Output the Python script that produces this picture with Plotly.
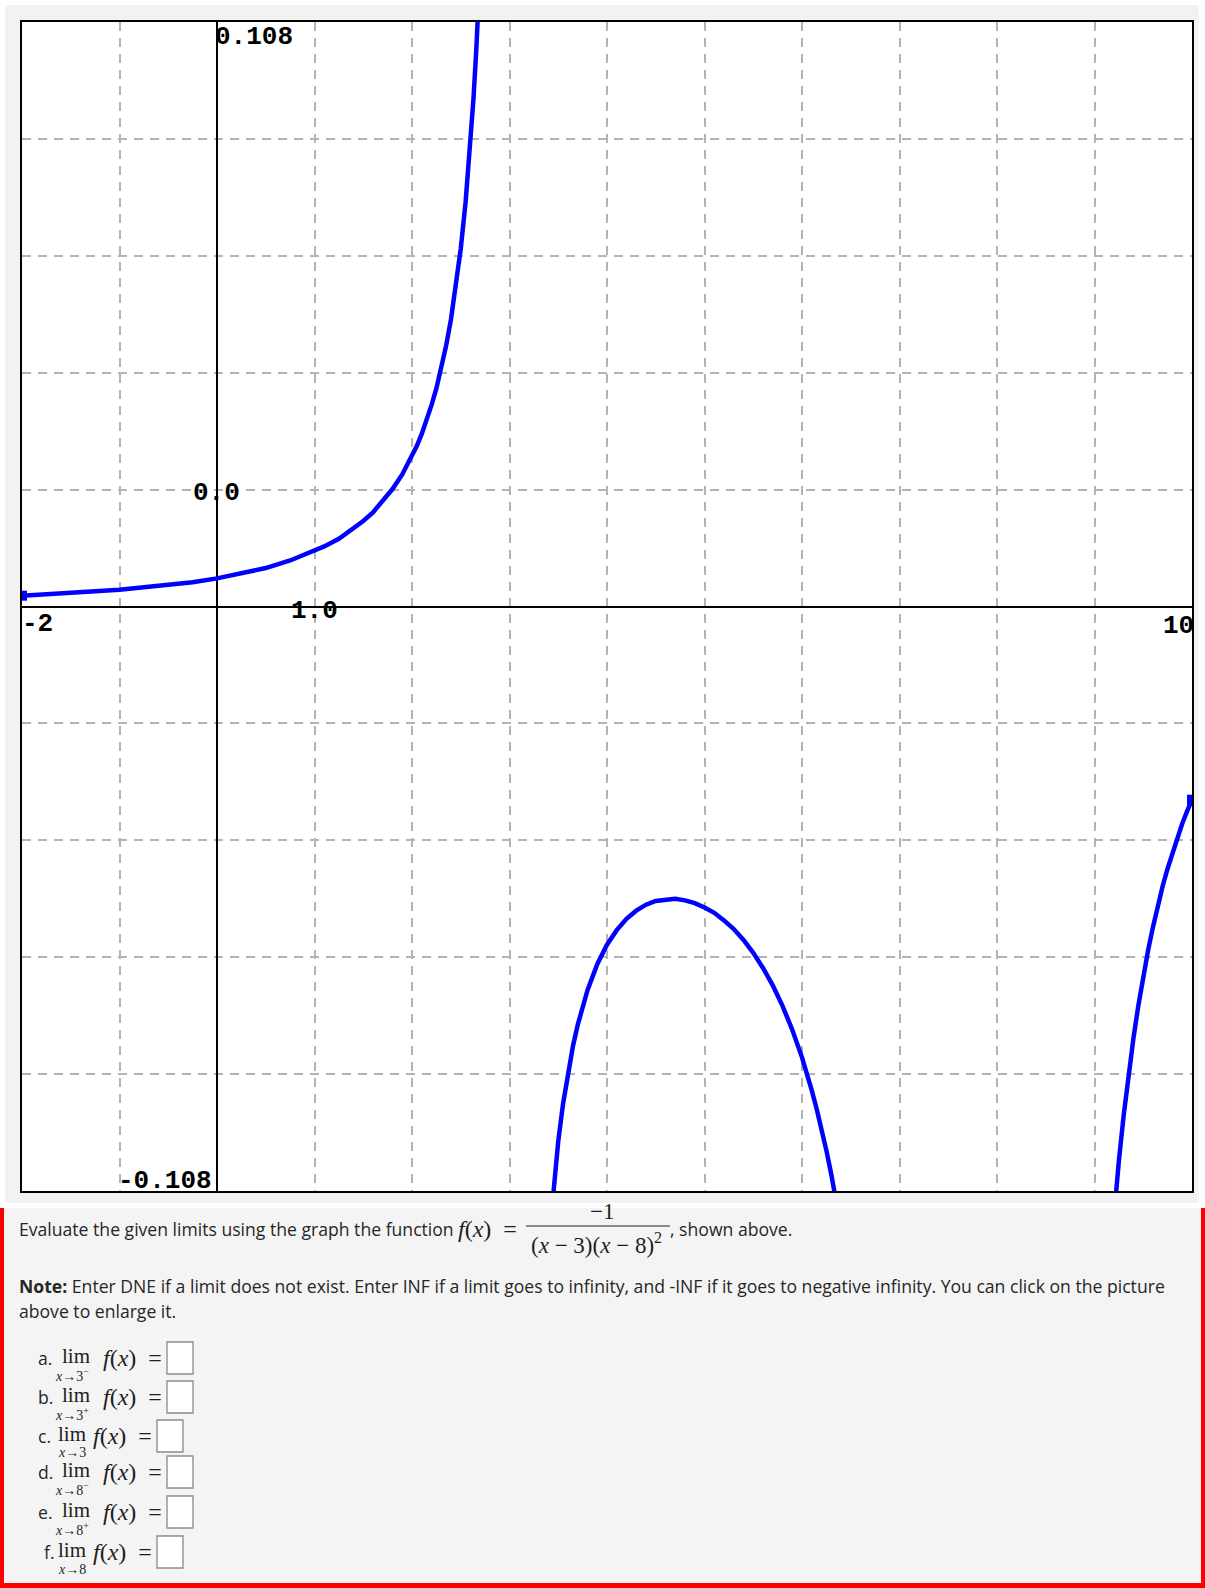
import plotly.graph_objects as go

W, H = 1205, 1588
# plot box on the page, in pixels
X0, X1, Y0, Y1 = 22, 1192, 22, 1191

x_range = [-2, 10]
y_range = [-0.108, 0.108]

# branch left of the asymptote x = 3
left_x = [-2, -1.75, -1.5, -1.25, -1, -0.75, -0.5, -0.25, 0, 0.25, 0.5, 0.75, 1, 1.1, 1.25,
          1.4, 1.5, 1.6, 1.7, 1.75, 1.8, 1.9, 2, 2.05, 2.1, 2.15, 2.2, 2.25, 2.3, 2.35, 2.4,
          2.45, 2.5, 2.55, 2.58, 2.6, 2.63, 2.66, 2.68, 2.7]
left_y = [0.0020, 0.0022, 0.0025, 0.0028, 0.0031, 0.0035, 0.0040, 0.0045, 0.0052, 0.0061,
          0.0071, 0.0085, 0.0102, 0.0111, 0.0125, 0.0144, 0.0158, 0.0174, 0.0194, 0.0205,
          0.0217, 0.0244, 0.0278, 0.0297, 0.0319, 0.0344, 0.0372, 0.0403, 0.0440, 0.0482,
          0.0531, 0.0590, 0.0661, 0.0748, 0.0810, 0.0857, 0.0937, 0.1031, 0.1104, 0.1187]

# branch between x = 3 and x = 8
mid_x = [3.4, 3.45, 3.5, 3.55, 3.6, 3.65, 3.7, 3.8, 3.9, 4.0, 4.1, 4.2, 4.3, 4.4, 4.5, 4.6,
         4.7, 4.8, 4.9, 5.0, 5.1, 5.2, 5.3, 5.4, 5.5, 5.6, 5.7, 5.8, 5.9, 6.0, 6.05, 6.1,
         6.15, 6.2, 6.25, 6.3, 6.35, 6.4]
mid_y = [-0.1181, -0.1073, -0.0988, -0.0918, -0.0861, -0.0813, -0.0773, -0.0709, -0.0661,
         -0.0625, -0.0598, -0.0577, -0.0562, -0.0551, -0.0544, -0.0541, -0.0540, -0.0543,
         -0.0548, -0.0556, -0.0566, -0.0580, -0.0596, -0.0616, -0.0640, -0.0668, -0.0700,
         -0.0738, -0.0782, -0.0833, -0.0862, -0.0894, -0.0928, -0.0965, -0.1005, -0.1049,
         -0.1096, -0.1149]

# branch right of x = 8
right_x = [9.15, 9.2, 9.25, 9.3, 9.35, 9.4, 9.45, 9.5, 9.55, 9.6, 9.65, 9.7, 9.75, 9.8,
           9.85, 9.9, 9.95, 10]
right_y = [-0.1230, -0.1120, -0.1024, -0.0939, -0.0864, -0.0797, -0.0737, -0.0684, -0.0635,
           -0.0592, -0.0552, -0.0516, -0.0484, -0.0454, -0.0427, -0.0401, -0.0378, -0.0357]

axis_labels = ["0.108", "0.0", "1.0", "-2", "10", "-0.108"]

question_labels = ["a.", "b.", "c.", "d.", "e.", "f."]
question_subs = ["<i>x</i>→3<sup>−</sup>", "<i>x</i>→3<sup>+</sup>", "<i>x</i>→3",
                 "<i>x</i>→8<sup>−</sup>", "<i>x</i>→8<sup>+</sup>", "<i>x</i>→8"]


def px(x):
    return (x - X0) / (X1 - X0)


def py(y):
    return (Y1 - y) / (Y1 - Y0)


fig = go.Figure()

for xs, ys in [(left_x, left_y), (mid_x, mid_y), (right_x, right_y)]:
    fig.add_trace(go.Scatter(x=xs, y=ys, mode="lines",
                             line=dict(color="#0000ff", width=4.5),
                             showlegend=False, hoverinfo="skip"))

# little end marks at the left and right edges
fig.add_trace(go.Scatter(x=[left_x[0], right_x[-1]], y=[left_y[0], right_y[-1]], mode="markers",
                         marker=dict(color="#0000ff", size=10, symbol="square"),
                         cliponaxis=True, showlegend=False, hoverinfo="skip"))

shapes = [
    dict(type="rect", xref="paper", yref="paper", x0=px(5), x1=px(1199), y0=py(1203), y1=py(5),
         fillcolor="#f2f2f2", line=dict(width=0), layer="below"),
    dict(type="rect", xref="paper", yref="paper", x0=0, x1=1, y0=0, y1=1,
         fillcolor="white", line=dict(width=0), layer="below"),
    dict(type="rect", xref="paper", yref="paper", x0=px(0), x1=px(1205), y0=py(1588), y1=py(1208),
         fillcolor="#ff0000", line=dict(width=0), layer="below"),
    dict(type="rect", xref="paper", yref="paper", x0=px(4), x1=px(1201), y0=py(1583), y1=py(1208),
         fillcolor="#f4f4f4", line=dict(width=0), layer="below"),
    # fraction bar
    dict(type="line", xref="paper", yref="paper", x0=px(526), x1=px(670), y0=py(1226), y1=py(1226),
         line=dict(color="#222", width=1.2)),
]

ann = []
mono = dict(family="Liberation Mono", size=26, color="black")


def label(text, x, y, xa):
    ann.append(dict(text="<b>%s</b>" % text, xref="paper", yref="paper", x=px(x), y=py(y),
                    xanchor=xa, yanchor="middle", showarrow=False, font=mono))


label(axis_labels[0], 213, 37, "left")
label(axis_labels[1], 216, 493, "center")
label(axis_labels[2], 314, 611, "center")
label(axis_labels[3], 20, 624, "left")
label(axis_labels[4], 1196, 626, "right")
label(axis_labels[5], 214, 1181, "right")

body = dict(family="Open Sans", size=17.6, color="#262626")
serif = dict(family="Liberation Serif", size=24, color="#1e1e1e")


def text(t, x, y, font, xa="left"):
    ann.append(dict(text=t, xref="paper", yref="paper", x=px(x), y=py(y), xanchor=xa,
                    yanchor="middle", showarrow=False, font=font, borderpad=0))


fx = "<i>f</i>(<i>x</i>)\u2002="
text("Evaluate the given limits using the graph the function", 18, 1229, body)
text(fx, 457, 1229, serif)
text("−1", 602, 1211, dict(serif, size=23), "center")
text("(<i>x</i> − 3)(<i>x</i> − 8)<sup>2</sup>", 596, 1244, dict(serif, size=23), "center")
text(", shown above.", 669, 1229, body)
text("<b>Note:</b> Enter DNE if a limit does not exist. Enter INF if a limit goes to infinity, "
     "and -INF if it goes to negative infinity. You can click on the picture", 18, 1286, body)
text("above to enlarge it.", 18, 1311, body)

line_y = [1358, 1397, 1436, 1472, 1512, 1552]
for i, lab in enumerate(question_labels):
    narrow = lab in ("c.", "f.")
    yy = line_y[i]
    text(lab, 43 if lab == "f." else 37, yy, body)
    text("lim", 57 if narrow else 61, yy - 2, dict(serif, size=21))
    text(question_subs[i], 72, yy + 17, dict(serif, size=14), "center")
    text(fx, 92 if narrow else 102, yy, serif)
    bx = 157 if narrow else 167
    shapes.append(dict(type="rect", xref="paper", yref="paper", x0=px(bx), x1=px(bx + 26),
                       y0=py(yy + 16), y1=py(yy - 16), fillcolor="white",
                       line=dict(color="#8a8a8a", width=1.3)))

fig.update_layout(
    width=W, height=H,
    margin=dict(l=X0, r=W - X1, t=Y0, b=H - Y1),
    paper_bgcolor="white", plot_bgcolor="white",
    showlegend=False,
    shapes=shapes, annotations=ann,
    xaxis=dict(range=x_range, tick0=0, dtick=1, showticklabels=False, ticks="",
               showgrid=True, gridcolor="#b4b4b4", gridwidth=2, griddash="9px,7px",
               zeroline=True, zerolinecolor="black", zerolinewidth=2,
               showline=True, mirror=True, linecolor="black", linewidth=2, fixedrange=True),
    yaxis=dict(range=y_range, tick0=0, dtick=0.0216, showticklabels=False, ticks="",
               showgrid=True, gridcolor="#b4b4b4", gridwidth=2, griddash="9px,7px",
               zeroline=True, zerolinecolor="black", zerolinewidth=2,
               showline=True, mirror=True, linecolor="black", linewidth=2, fixedrange=True),
)

fig.write_html("out.html", config={"displayModeBar": False},
               post_script="document.body.style.margin='0px';")
